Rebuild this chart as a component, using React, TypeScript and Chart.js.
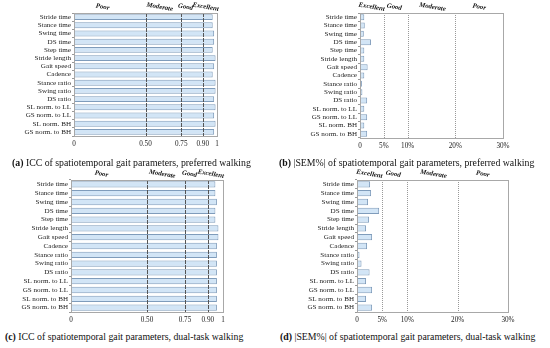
import React, { useEffect, useRef } from "react";
import { Chart, registerables } from "chart.js";

Chart.register(...registerables);

const labelsPreferred = [
  "Stride time", "Stance time", "Swing time", "DS time", "Step time", "Stride length",
  "Gait speed", "Cadence", "Stance ratio", "Swing ratio", "DS ratio",
  "SL norm. to LL", "GS norm. to LL", "SL norm. BH", "GS norm. to BH",
];
const labelsDual = [
  "Stride time", "Stance time", "Swing time", "DS time", "Step time", "Stride length",
  "Gait speed", "Cadence", "Stance ratio", "Swing ratio", "DS ratio",
  "SL norm. to LL", "GS norm. to LL", "SL norm. to BH", "GS norm. to BH",
];

const iccPreferred = [0.97, 0.97, 0.98, 0.98, 0.97, 0.99, 0.98, 0.97, 0.99, 0.99, 0.98, 0.99, 0.98, 0.99, 0.98];
const semPreferred = [0.9, 1.0, 0.8, 2.3, 0.9, 0.9, 1.6, 0.9, 0.4, 0.5, 1.5, 0.9, 1.5, 0.9, 1.5];
const iccDual = [0.95, 0.95, 0.96, 0.95, 0.95, 0.97, 0.97, 0.96, 0.96, 0.96, 0.96, 0.96, 0.96, 0.96, 0.96];
const semDual = [2.6, 2.8, 2.2, 4.4, 2.4, 1.8, 3.0, 2.0, 0.5, 0.9, 2.5, 1.8, 3.0, 1.8, 3.0];

const iccTicks = [0, 0.5, 0.75, 0.9, 1];
const iccTickLabels = ["0", "0.50", "0.75", "0.90", "1"];
const iccRefLines = [0.5, 0.75, 0.9];
const iccCategories = ["Poor", "Moderate", "Good", "Excellent"];
const iccCategoryAt = [0.2, 0.6, 0.78, 0.92];

const semTicks = [0, 5, 10, 20, 30];
const semTickLabels = ["0", "5%", "10%", "20%", "30%"];
const semRefLines = [5, 10, 20];
const semCategories = ["Excellent", "Good", "Moderate", "Poor"];
const semCategoryAt = [2.45, 7.2, 15.2, 25];

const SERIF = "'Liberation Serif', 'Times New Roman', serif";

type PanelProps = {
  labels: string[];
  values: number[];
  min: number;
  max: number;
  ticks: number[];
  tickLabels: string[];
  refLines: number[];
  refColor: string;
  refDash: number[];
  categories: string[];
  categoryAt: number[];
  left: number;
  top: number;
  width: number;
  height: number;
  axisWidth: number;
  padTop: number;
  padRight: number;
  xAxisHeight: number;
  catOffset: number;
};

function Panel(p: PanelProps) {
  const ref = useRef<HTMLCanvasElement | null>(null);
  useEffect(() => {
    if (!ref.current) return;
    const deco = {
      id: "deco",
      afterDatasetsDraw(chart: any) {
        const { ctx, chartArea } = chart;
        const xs = chart.scales.x;
        ctx.save();
        ctx.strokeStyle = p.refColor;
        ctx.lineWidth = 1;
        ctx.setLineDash(p.refDash);
        p.refLines.forEach((v) => {
          const x = Math.round(xs.getPixelForValue(v)) + 0.5;
          ctx.beginPath();
          ctx.moveTo(x, chartArea.top);
          ctx.lineTo(x, chartArea.bottom);
          ctx.stroke();
        });
        ctx.setLineDash([]);
        ctx.strokeStyle = "#a8a8a8";
        ctx.strokeRect(
          Math.round(chartArea.left) + 0.5,
          Math.round(chartArea.top) + 0.5,
          Math.round(chartArea.right - chartArea.left),
          Math.round(chartArea.bottom - chartArea.top)
        );
        ctx.fillStyle = "#111";
        ctx.font = `italic bold 6.8px ${SERIF}`;
        ctx.textAlign = "center";
        ctx.textBaseline = "middle";
        p.categories.forEach((c, i) => {
          const x = xs.getPixelForValue(p.categoryAt[i]);
          ctx.save();
          ctx.translate(x, chartArea.top - p.catOffset);
          ctx.rotate((10 * Math.PI) / 180);
          ctx.fillText(c, 0, 0);
          ctx.restore();
        });
        ctx.restore();
      },
    };
    const chart = new Chart(ref.current, {
      type: "bar",
      data: {
        labels: p.labels,
        datasets: [
          {
            data: p.values,
            backgroundColor: "#d2e5f6",
            borderColor: "#7f9cbb",
            borderWidth: 1,
            barPercentage: 0.72,
            categoryPercentage: 1,
          },
        ],
      },
      options: {
        indexAxis: "y",
        animation: false,
        responsive: false,
        layout: { padding: { top: p.padTop, right: p.padRight, left: 0, bottom: 0 } },
        plugins: { legend: { display: false }, tooltip: { enabled: false } },
        scales: {
          x: {
            min: p.min,
            max: p.max,
            grid: { display: false, drawTicks: false },
            border: { display: false },
            afterBuildTicks: (s: any) => {
              s.ticks = p.ticks.map((v) => ({ value: v }));
            },
            afterFit: (s: any) => {
              s.height = p.xAxisHeight;
            },
            ticks: {
              autoSkip: false,
              maxRotation: 0,
              padding: 4,
              color: "#222",
              font: { family: SERIF, size: 7.2 },
              callback: (v: any) => {
                const i = p.ticks.indexOf(Number(v));
                return i >= 0 ? p.tickLabels[i] : "";
              },
            },
          },
          y: {
            grid: { display: true, drawOnChartArea: false, drawTicks: true, tickLength: 2, color: "#999" },
            border: { display: false },
            afterFit: (s: any) => {
              s.width = p.axisWidth;
            },
            ticks: {
              autoSkip: false,
              padding: 1,
              color: "#222",
              font: { family: SERIF, size: 7.1 },
            },
          },
        },
      },
      plugins: [deco],
    } as any);
    return () => chart.destroy();
  }, []);
  return (
    <canvas
      ref={ref}
      width={p.width}
      height={p.height}
      style={{ position: "absolute", left: p.left, top: p.top, width: p.width, height: p.height }}
    />
  );
}

const captionStyle: React.CSSProperties = {
  position: "absolute",
  whiteSpace: "nowrap",
  fontFamily: SERIF,
  fontSize: "9.8px",
  color: "#111",
  lineHeight: "12px",
};

export default function App() {
  return (
    <div style={{ position: "fixed", left: 0, top: 0, width: 550, height: 348, background: "#fff", overflow: "hidden" }}>
      <Panel
        labels={labelsPreferred} values={iccPreferred} min={0} max={1}
        ticks={iccTicks} tickLabels={iccTickLabels} refLines={iccRefLines} refColor="#555" refDash={[4, 1]}
        categories={iccCategories} categoryAt={iccCategoryAt}
        left={0} top={0} width={275} height={150} axisWidth={74} padTop={13} padRight={58} xAxisHeight={14} catOffset={6}
      />
      <Panel
        labels={labelsPreferred} values={semPreferred} min={0} max={30}
        ticks={semTicks} tickLabels={semTickLabels} refLines={semRefLines} refColor="#999" refDash={[1, 1]}
        categories={semCategories} categoryAt={semCategoryAt}
        left={275} top={0} width={275} height={150} axisWidth={85} padTop={13} padRight={47} xAxisHeight={12} catOffset={6}
      />
      <Panel
        labels={labelsDual} values={iccDual} min={0} max={1}
        ticks={iccTicks} tickLabels={iccTickLabels} refLines={iccRefLines} refColor="#555" refDash={[4, 1]}
        categories={iccCategories} categoryAt={iccCategoryAt}
        left={0} top={166} width={275} height={164} axisWidth={71} padTop={14} padRight={52} xAxisHeight={18} catOffset={6}
      />
      <Panel
        labels={labelsDual} values={semDual} min={0} max={30}
        ticks={semTicks} tickLabels={semTickLabels} refLines={semRefLines} refColor="#999" refDash={[1, 1]}
        categories={semCategories} categoryAt={semCategoryAt}
        left={275} top={166} width={275} height={164} axisWidth={82} padTop={14} padRight={42} xAxisHeight={18} catOffset={6}
      />
      <div style={{ ...captionStyle, left: 12, top: 157 }}>
        <b>(a)</b> ICC of spatiotemporal gait parameters, preferred walking
      </div>
      <div style={{ ...captionStyle, left: 279, top: 157 }}>
        <b>(b)</b> |SEM%| of spatiotemporal gait parameters, preferred walking
      </div>
      <div style={{ ...captionStyle, left: 5, top: 331 }}>
        <b>(c)</b> ICC of spatiotemporal gait parameters, dual-task walking
      </div>
      <div style={{ ...captionStyle, left: 280, top: 331 }}>
        <b>(d)</b> |SEM%| of spatiotemporal gait parameters, dual-task walking
      </div>
    </div>
  );
}
